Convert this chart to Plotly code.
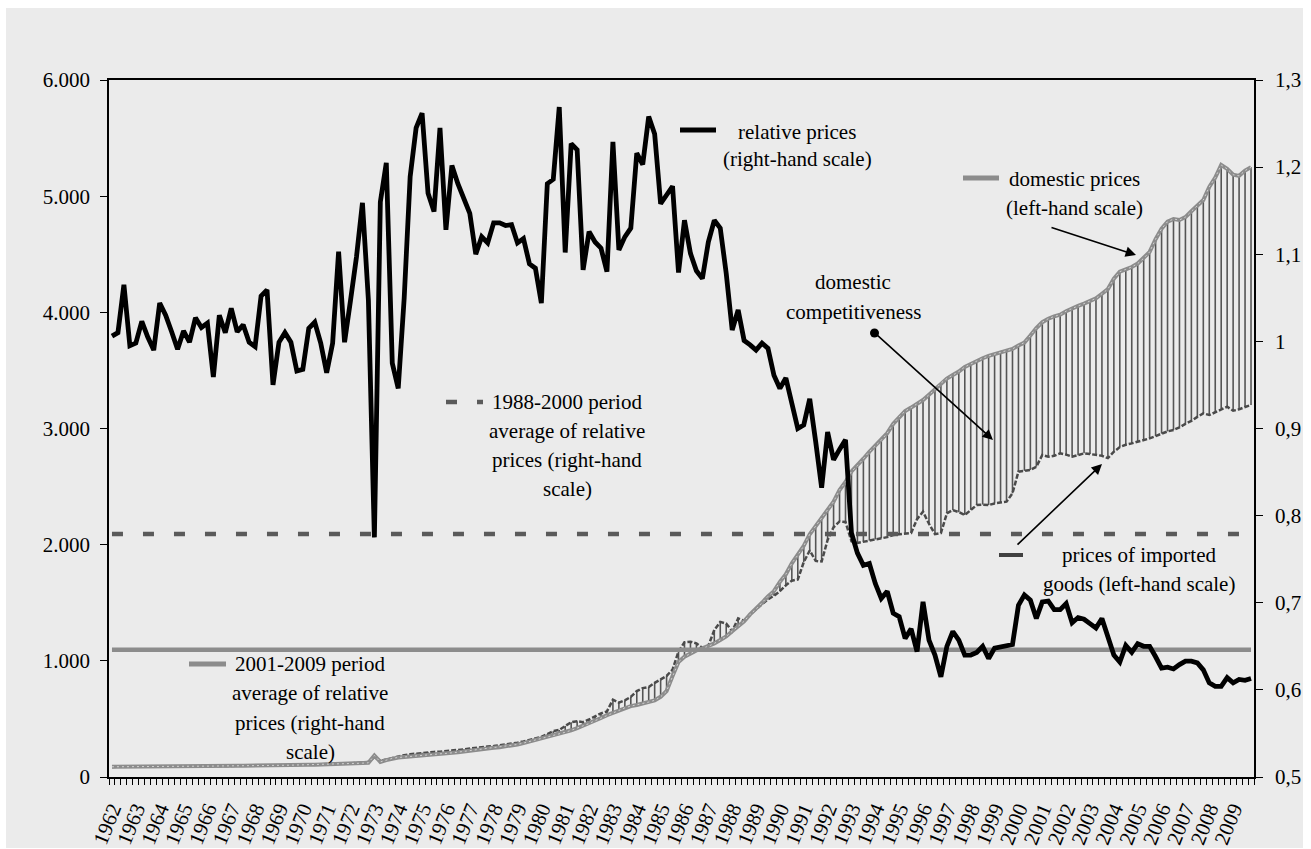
import plotly.graph_objects as go

# ---------------- data (quarterly, 1962Q1 .. 2009Q4) ----------------
years = list(range(1962, 2010))

relative_prices = [
    1.006, 1.010, 1.065, 0.995, 0.998, 1.023, 1.005, 0.990, 1.044, 1.030,
    1.011, 0.991, 1.012, 0.999, 1.027, 1.016, 1.021, 0.959, 1.030, 1.010,
    1.038, 1.011, 1.019, 0.999, 0.994, 1.052, 1.059, 0.950, 0.999, 1.010,
    0.999, 0.966, 0.968, 1.015, 1.022, 0.998, 0.964, 0.998, 1.103, 0.999,
    1.047, 1.097, 1.159, 1.047, 0.775, 1.160, 1.205, 0.975, 0.946, 1.050,
    1.189, 1.245, 1.262, 1.170, 1.149, 1.245, 1.128, 1.202, 1.181, 1.164,
    1.147, 1.100, 1.120, 1.113, 1.136, 1.136, 1.133, 1.134, 1.113, 1.118,
    1.089, 1.084, 1.044, 1.181, 1.186, 1.269, 1.102, 1.227, 1.220, 1.082,
    1.126, 1.114, 1.107, 1.080, 1.229, 1.105, 1.120, 1.130, 1.216, 1.203,
    1.258, 1.238, 1.158, 1.168, 1.178, 1.079, 1.139, 1.101, 1.081, 1.072,
    1.114, 1.139, 1.130, 1.078, 1.013, 1.036, 1.001, 0.996, 0.990, 0.998,
    0.992, 0.961, 0.946, 0.958, 0.929, 0.900, 0.904, 0.934, 0.885, 0.832,
    0.896, 0.864, 0.876, 0.887, 0.780, 0.757, 0.743, 0.745, 0.722, 0.705,
    0.713, 0.688, 0.684, 0.659, 0.670, 0.644, 0.701, 0.657, 0.640, 0.615,
    0.650, 0.667, 0.657, 0.640, 0.640, 0.643, 0.650, 0.636, 0.648, 0.649,
    0.650, 0.652, 0.697, 0.709, 0.703, 0.682, 0.701, 0.702, 0.692, 0.692,
    0.699, 0.677, 0.683, 0.681, 0.676, 0.671, 0.682, 0.659, 0.640, 0.632,
    0.651, 0.643, 0.653, 0.650, 0.650, 0.638, 0.625, 0.626, 0.624, 0.629,
    0.633, 0.633, 0.631, 0.623, 0.608, 0.604, 0.604, 0.614, 0.608, 0.612,
    0.611, 0.613,
]

domestic_prices = [
    88, 88, 88, 89, 89, 89, 90, 90, 90, 91,
    91, 92, 92, 92, 93, 93, 94, 94, 95, 95,
    96, 96, 97, 97, 98, 98, 99, 100, 100, 101,
    102, 103, 104, 105, 106, 107, 108, 110, 111, 113,
    115, 117, 119, 122,
    185, 130, 145, 160, 168, 172, 176, 180, 183, 186,
    190, 195, 200, 208, 214, 220, 228, 236, 241, 246,
    252, 257, 263, 270, 280, 292, 305, 318, 330, 342,
    355, 368, 385, 402, 420, 440, 460, 485, 508, 532,
    552, 575, 595, 610, 620, 632, 645, 660, 690, 740,
    870, 990, 1035, 1065, 1090, 1108, 1125, 1150, 1180, 1210,
    1255, 1295, 1340, 1400, 1445, 1500, 1555, 1600, 1680, 1745,
    1840, 1910, 1990, 2090, 2160, 2240, 2310, 2370, 2470, 2540,
    2630, 2680, 2740, 2800, 2850, 2900, 2960, 3040, 3100, 3150,
    3180, 3210, 3245, 3290, 3335, 3390, 3430, 3460, 3490, 3530,
    3555, 3585, 3605, 3625, 3640, 3650, 3665, 3685, 3715, 3740,
    3800, 3865, 3915, 3945, 3965, 3980, 4010, 4035, 4055, 4075,
    4100, 4120, 4160, 4200, 4290, 4350, 4370, 4390, 4420, 4465,
    4520, 4630, 4720, 4780, 4803, 4795, 4820, 4870, 4920, 4967,
    5080, 5160, 5268, 5235, 5185, 5175, 5220, 5250,
]

imported_prices = [
    87, 87, 87, 88, 88, 88, 89, 89, 90, 90,
    91, 91, 92, 92, 93, 93, 93, 94, 94, 95,
    95, 96, 96, 97, 97, 98, 99, 99, 100, 101,
    102, 103, 104, 105, 106, 107, 108, 110, 112, 114,
    117, 121, 126, 130,
    172, 140, 150, 163, 178, 188, 196, 202, 208, 212,
    216, 218, 222, 226, 232, 238, 245, 252, 258, 262,
    266, 272, 278, 286, 295, 306, 318, 330, 345, 370,
    395, 405, 440, 472, 480, 472, 495, 525, 548, 565,
    665, 640, 660, 690, 740, 765, 775, 810, 840, 870,
    925, 1080, 1160, 1165, 1150, 1110, 1130, 1265, 1335, 1320,
    1255, 1365, 1345, 1400, 1445, 1490, 1530, 1560, 1600, 1650,
    1690, 1700, 1850, 1950, 1860, 1855, 2040, 2150, 2200, 2195,
    2030, 2015, 2026, 2035, 2045, 2055, 2065, 2083, 2090, 2098,
    2100, 2220, 2284, 2180, 2090, 2100, 2270, 2298, 2280, 2255,
    2300, 2341, 2345, 2341, 2355, 2365, 2370, 2442, 2628, 2635,
    2643, 2671, 2772, 2757, 2765, 2786, 2775, 2757, 2770, 2786,
    2780, 2772, 2765, 2745, 2800, 2840, 2860, 2872, 2885, 2900,
    2915, 2935, 2955, 2975, 2987, 3010, 3040, 3065, 3100, 3130,
    3116, 3140, 3170, 3187, 3153, 3165, 3185, 3202,
]

avg_1988_2000 = 0.779   # right-hand scale
avg_2001_2009 = 0.646   # right-hand scale

left_ticks = [0, 1000, 2000, 3000, 4000, 5000, 6000]
left_tick_text = ["0", "1.000", "2.000", "3.000", "4.000", "5.000", "6.000"]
right_ticks = [0.5, 0.6, 0.7, 0.8, 0.9, 1.0, 1.1, 1.2, 1.3]
right_tick_text = ["0,5", "0,6", "0,7", "0,8", "0,9", "1", "1,1", "1,2", "1,3"]

# ---------------- geometry helpers ----------------
W, H = 1311, 849
ML, MR, MT, MB = 109, 57, 80, 72
PW, PH = W - ML - MR, H - MT - MB


def px(x):
    return (x - ML) / PW


def py(y):
    return (H - MB - y) / PH


n = len(relative_prices)
quarters = list(range(n))
FONT = "Liberation Serif"

fig = go.Figure()

# hatch (domestic competitiveness): vertical segments between the two price series
hx, hy = [], []
for i, (d, m) in enumerate(zip(domestic_prices, imported_prices)):
    hx += [i, i, None]
    hy += [m, d, None]
fig.add_trace(go.Scatter(x=hx, y=hy, mode="lines",
                         line=dict(color="#555555", width=1.6), hoverinfo="skip"))

fig.add_trace(go.Scatter(x=quarters, y=imported_prices, mode="lines",
                         line=dict(color="#4a4a4a", width=2.5, dash="5px,2px")))
fig.add_trace(go.Scatter(x=quarters, y=domestic_prices, mode="lines",
                         line=dict(color="#8c8c8c", width=4)))
fig.add_trace(go.Scatter(x=quarters, y=domestic_prices, mode="lines",
                         line=dict(color="#d2d2d2", width=1, dash="2px,3px")))

fig.add_trace(go.Scatter(x=[quarters[0], quarters[-1]], y=[avg_2001_2009] * 2, yaxis="y2",
                         mode="lines", line=dict(color="#8c8c8c", width=4.5)))
fig.add_trace(go.Scatter(x=[quarters[0], quarters[-1]], y=[avg_1988_2000] * 2, yaxis="y2",
                         mode="lines", line=dict(color="#5a5a5a", width=4.5, dash="11px,20px")))
fig.add_trace(go.Scatter(x=quarters, y=relative_prices, yaxis="y2", mode="lines",
                         line=dict(color="black", width=4.8)))

# ---------------- annotations ----------------
text_lines = [
    ("relative prices", 797, 132),
    ("(right-hand scale)", 797, 159),
    ("domestic prices", 1074, 179),
    ("(left-hand scale)", 1074, 208),
    ("domestic", 853, 282),
    ("competitiveness", 853, 312),
    ("1988-2000 period", 567, 402),
    ("average of relative", 567, 431),
    ("prices (right-hand", 567, 460),
    ("scale)", 567, 489),
    ("prices of imported", 1139, 555),
    ("goods (left-hand scale)", 1139, 584),
    ("2001-2009 period", 310, 664),
    ("average of relative", 310, 693),
    ("prices (right-hand", 310, 723),
    ("scale)", 310, 752),
]
annotations = []
for t, cx, cy in text_lines:
    annotations.append(dict(text=t, x=px(cx), y=py(cy), xref="paper", yref="paper",
                            xanchor="center", yanchor="middle", showarrow=False,
                            font=dict(family=FONT, size=21, color="black")))

arrows = [((1050, 227), (1136, 255)),
          ((876, 334), (993, 440)),
          ((1016, 546), (1102, 464))]
for (tx, ty), (hx_, hy_) in arrows:
    annotations.append(dict(text="", x=px(hx_), y=py(hy_), xref="paper", yref="paper",
                            ax=tx - hx_, ay=ty - hy_, showarrow=True, arrowhead=2,
                            arrowsize=1.3, arrowwidth=1.6, arrowcolor="black"))

shapes = [
    dict(type="rect", xref="paper", yref="paper", x0=px(6), x1=px(1303), y0=py(848), y1=py(8),
         fillcolor="#ebebeb", line=dict(width=0), layer="below"),
    dict(type="circle", xref="paper", yref="paper", x0=px(870), x1=px(879), y0=py(337.5), y1=py(328.5),
         fillcolor="black", line=dict(width=0)),
    dict(type="line", xref="paper", yref="paper", x0=px(680), x1=px(716), y0=py(130), y1=py(130),
         line=dict(color="black", width=5)),
    dict(type="line", xref="paper", yref="paper", x0=px(963), x1=px(999), y0=py(178), y1=py(178),
         line=dict(color="#8c8c8c", width=5)),
    dict(type="line", xref="paper", yref="paper", x0=px(446), x1=px(483), y0=py(402), y1=py(402),
         line=dict(color="#5a5a5a", width=4.5, dash="11px,20px")),
    dict(type="line", xref="paper", yref="paper", x0=px(999), x1=px(1023), y0=py(555), y1=py(555),
         line=dict(color="#404040", width=4)),
    dict(type="line", xref="paper", yref="paper", x0=px(189), x1=px(226), y0=py(664), y1=py(664),
         line=dict(color="#8c8c8c", width=5)),
]

fig.update_layout(
    width=W, height=H,
    margin=dict(l=ML, r=MR, t=MT, b=MB, pad=0, autoexpand=False),
    paper_bgcolor="white",
    plot_bgcolor="rgba(0,0,0,0)",
    showlegend=False,
    font=dict(family=FONT, size=21, color="black"),
    xaxis=dict(range=[-0.5, n - 0.5], tickmode="array",
               tickvals=[4 * k for k in range(len(years))],
               ticktext=[str(y) for y in years], tickangle=-68, ticks="",
               tickfont=dict(family=FONT, size=21, color="black"),
               ticklabelstandoff=10, automargin=False,
               showline=True, linecolor="black", linewidth=1.5, mirror=True,
               showgrid=False, zeroline=False,
               minor=dict(tick0=-0.5, dtick=1, ticks="outside", ticklen=6,
                          tickcolor="black", tickwidth=1, showgrid=False)),
    yaxis=dict(range=[0, 6000], tickmode="array", tickvals=left_ticks, ticktext=left_tick_text,
               ticks="outside", ticklen=7, tickcolor="black", tickwidth=1.2,
               tickfont=dict(family=FONT, size=21, color="black"),
               showline=True, linecolor="black", linewidth=1.5, automargin=False,
               showgrid=False, zeroline=False, ticklabelstandoff=6),
    yaxis2=dict(overlaying="y", side="right", range=[0.5, 1.3], tickmode="array",
                tickvals=right_ticks, ticktext=right_tick_text,
                ticks="outside", ticklen=7, tickcolor="black", tickwidth=1.2,
                tickfont=dict(family=FONT, size=21, color="black"),
                showline=True, linecolor="black", linewidth=1.5, automargin=False,
                showgrid=False, zeroline=False, ticklabelstandoff=8),
    annotations=annotations,
    shapes=shapes,
)

fig.write_html("out.html", config={"displayModeBar": False},
               post_script="document.body.style.margin='0px';document.body.style.padding='0px';")
